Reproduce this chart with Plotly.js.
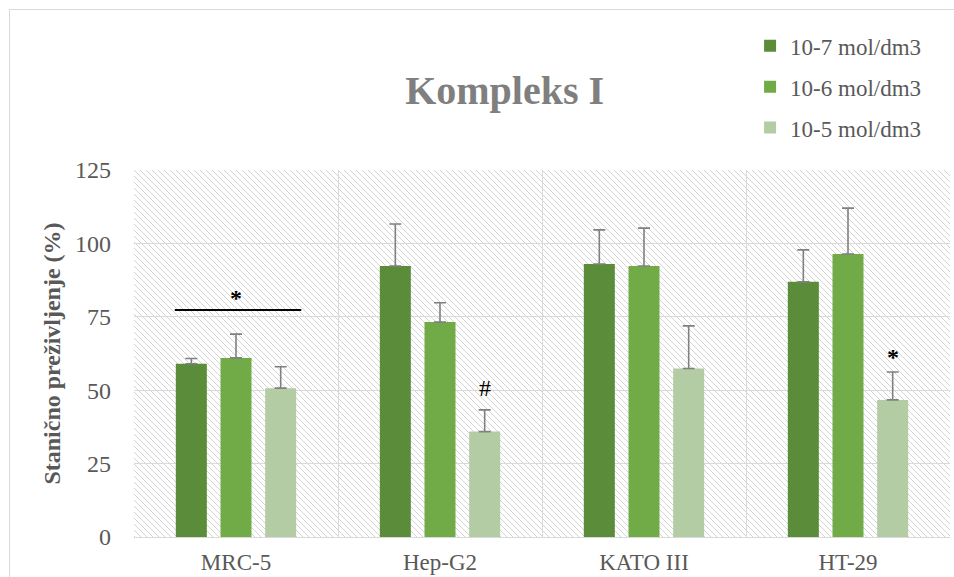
<!DOCTYPE html>
<html>
<head>
<meta charset="utf-8">
<script src="https://cdn.plot.ly/plotly-3.0.1.min.js"></script>
<style>
  html, body { margin: 0; padding: 0; background: #ffffff; }
  #wrap { position: relative; width: 954px; height: 577px; overflow: hidden; }
  #chart { position: absolute; left: 0; top: 0; width: 954px; height: 577px; }
  #frame { position: absolute; left: 9px; top: 9px; width: 1000px; height: 1000px;
           border: 1px solid #d9d9d9; pointer-events: none; }
</style>
</head>
<body>
<div id="wrap">
  <div id="chart"></div>
  <div id="frame"></div>
</div>
<script>
// ---- data ----
const categories = ['MRC-5', 'Hep-G2', 'KATO III', 'HT-29'];
const seriesNames = ['10-7 mol/dm3', '10-6 mol/dm3', '10-5 mol/dm3'];
const values7 = [59, 92.3, 93, 86.9];
const values6 = [61, 73.2, 92.3, 96.4];
const values5 = [50.7, 35.9, 57.4, 46.7];
const errors7 = [1.8, 14.3, 11.6, 10.9];
const errors6 = [8.1, 6.6, 12.9, 15.6];
const errors5 = [7.3, 7.4, 14.5, 9.5];
const yTicks = [0, 25, 50, 75, 100, 125];
// significance marks: [category index, series index, symbol]
const barMarks = [[1, 2, '#'], [3, 2, '*']];
const groupMark = { category: 0, symbol: '*', level: 77.3 };

// ---- style ----
const colors = ['#5a8c3a', '#70ab47', '#b3cca3'];
const serif = 'Liberation Serif, Times New Roman, serif';
const textGray = '#595959';
const bargap = 0.343;
const markShift = { '#': 7, '*': 0 };

const vals = [values7, values6, values5];
const errs = [errors7, errors6, errors5];

const traces = seriesNames.map((name, k) => ({
  type: 'bar',
  name: name,
  x: categories,
  y: vals[k],
  legendgroup: 'g' + k,
  marker: { color: colors[k], line: { width: 0 } },
  error_y: {
    type: 'data', symmetric: false,
    array: errs[k], arrayminus: errs[k].map(() => 0),
    color: '#808080', thickness: 1.6, width: 6
  },
  hoverinfo: 'x+y+name'
}));

const slot = (1 - bargap) / 3;
const annotations = barMarks.map(([c, k, sym]) => ({
  xref: 'x', yref: 'y',
  x: c + (k - 1) * slot,
  y: vals[k][c] + errs[k][c],
  yshift: markShift[sym],
  text: sym === '*' ? '<b>*</b>' : sym, showarrow: false,
  yanchor: 'bottom',
  font: { family: serif, size: 24, color: '#000000' }
}));
annotations.push({
  xref: 'x', yref: 'y',
  x: groupMark.category, y: groupMark.level, yshift: -3,
  text: '<b>' + groupMark.symbol + '</b>', showarrow: false, yanchor: 'bottom',
  font: { family: serif, size: 24, color: '#000000' }
});

const shapes = [{
  type: 'line', xref: 'x', yref: 'y',
  x0: groupMark.category - 0.30, x1: groupMark.category + 0.32,
  y0: groupMark.level, y1: groupMark.level,
  line: { color: '#000000', width: 2 }
}];

// hatch background image for the plot area
const plotW = 816, plotH = 367;
const svg = '<svg xmlns="http://www.w3.org/2000/svg" width="' + plotW + '" height="' + plotH + '">' +
  '<defs><pattern id="h" patternUnits="userSpaceOnUse" width="6" height="6">' +
  '<path d="M0,0 L6,6 M-1,5 L1,7 M5,-1 L7,1" stroke="#d4d4d4" stroke-width="1"/></pattern></defs>' +
  '<rect width="100%" height="100%" fill="url(#h)"/></svg>';
const hatchSrc = 'data:image/svg+xml;charset=utf-8,' + encodeURIComponent(svg);

const layout = {
  width: 954, height: 577,
  margin: { l: 134, r: 4, t: 170, b: 40, pad: 0 },
  font: { family: serif, size: 22, color: textGray },
  paper_bgcolor: '#ffffff',
  plot_bgcolor: 'rgba(0,0,0,0)',
  barmode: 'group',
  bargap: bargap,
  bargroupgap: 0.306,
  title: {
    text: '<b>Kompleks I</b>',
    x: 0.529, xref: 'container', xanchor: 'center',
    y: 0.844, yref: 'container', yanchor: 'middle',
    font: { family: serif, size: 40, color: '#7f7f7f' }
  },
  showlegend: true,
  legend: {
    x: 0.755, y: 1.397, xanchor: 'left', yanchor: 'top',
    traceorder: 'grouped', tracegroupgap: 8,
    font: { family: serif, size: 23, color: textGray },
    itemwidth: 30, bgcolor: 'rgba(0,0,0,0)'
  },
  xaxis: {
    type: 'category',
    tickson: 'boundaries',
    showgrid: true, gridcolor: '#d9d9d9', gridwidth: 1,
    showline: true, linecolor: '#d9d9d9', linewidth: 1,
    ticks: '', ticklabelstandoff: 4,
    tickfont: { family: serif, size: 23, color: textGray },
    fixedrange: true
  },
  yaxis: {
    range: [0, 125],
    tickvals: yTicks,
    showgrid: true, gridcolor: '#d9d9d9', gridwidth: 1,
    zeroline: false, showline: false,
    ticks: '', ticklabelstandoff: 22,
    tickfont: { family: serif, size: 24, color: textGray },
    title: {
      text: '<b>Stanično preživljenje (%)</b>',
      font: { family: serif, size: 24, color: textGray },
      standoff: 7
    },
    fixedrange: true
  },
  images: [{
    source: hatchSrc, xref: 'paper', yref: 'paper',
    x: 0, y: 1, sizex: 1, sizey: 1, sizing: 'stretch',
    xanchor: 'left', yanchor: 'top', layer: 'below'
  }],
  annotations: annotations,
  shapes: shapes
};

Plotly.newPlot('chart', traces, layout, { displayModeBar: false, staticPlot: true });
</script>
</body>
</html>
